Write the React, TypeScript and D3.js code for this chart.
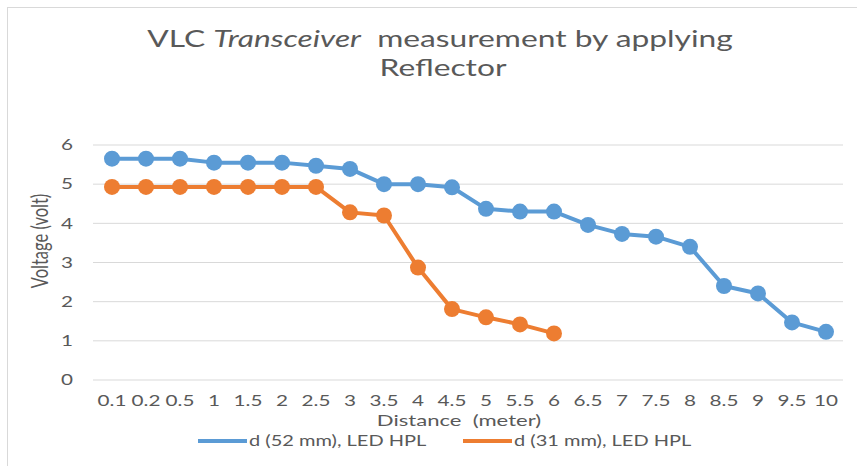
import * as d3 from 'd3'
import type { ReactNode } from 'react'

const distances = ['0.1', '0.2', '0.5', '1', '1.5', '2', '2.5', '3', '3.5', '4', '4.5', '5', '5.5', '6', '6.5', '7', '7.5', '8', '8.5', '9', '9.5', '10']
const blueValues = [5.65, 5.65, 5.65, 5.55, 5.55, 5.55, 5.47, 5.39, 5.0, 5.0, 4.92, 4.37, 4.3, 4.3, 3.96, 3.73, 3.66, 3.4, 2.4, 2.21, 1.47, 1.23]
const orangeValues = [4.93, 4.93, 4.93, 4.93, 4.93, 4.93, 4.93, 4.28, 4.2, 2.87, 1.81, 1.6, 1.42, 1.19]
const yTicks = [0, 1, 2, 3, 4, 5, 6]

const W = 857, H = 466
const FONT = 'Lato, "Open Sans", sans-serif'
const TEXT = '#595959'
const BLUE = '#5B9BD5'
const ORANGE = '#ED7D31'
// the reference picture is stretched sideways, so its text is wider than normal
const SX = 1.38

function T({ x, y, size, anchor = 'start', dy = '0', children }: { x: number; y: number; size: number; anchor?: string; dy?: string; children: ReactNode }) {
  return (
    <text transform={`translate(${x},${y}) scale(${SX},1)`} dy={dy} textAnchor={anchor} fontFamily={FONT} fontSize={size} fill={TEXT}>
      {children}
    </text>
  )
}

export default function App() {
  const x = d3.scaleBand<string>().domain(distances).range([95, 843]).padding(0)
  const y = d3.scaleLinear().domain([0, 6]).range([380, 145])
  const cx = (d: string) => (x(d) ?? 0) + x.bandwidth() / 2

  const line = d3.line<number>().x((_, i) => cx(distances[i])).y(d => y(d))

  const series = [
    { name: 'd (52 mm), LED HPL', values: blueValues, color: BLUE },
    { name: 'd (31 mm), LED HPL', values: orangeValues, color: ORANGE }
  ]

  return (
    <svg width={W} height={H} style={{ position: 'absolute', left: 0, top: 0, background: '#fff' }}>
      <rect x={7.5} y={7.5} width={W + 10} height={H + 10} fill="#fff" stroke="#D9D9D9" />

      {/* title */}
      <T x={440} y={47} size={23} anchor="middle">
        VLC <tspan fontStyle="italic">Transceiver</tspan>{'\u00a0\u00a0'}measurement by applying
      </T>
      <T x={443} y={76} size={23} anchor="middle">Reflector</T>

      {/* grid + y axis */}
      {yTicks.map(t => (
        <g key={t}>
          <line x1={93} x2={843} y1={y(t)} y2={y(t)} stroke="#D9D9D9" strokeWidth={1} />
          <T x={73} y={y(t)} dy="0.35em" size={15} anchor="end">{t}</T>
        </g>
      ))}

      <text transform={`translate(48,241) rotate(-90) scale(1,${SX})`} textAnchor="middle" fontFamily={FONT} fontSize={16.5} fill={TEXT}>
        Voltage (volt)
      </text>

      {/* x axis labels */}
      {distances.map(d => (
        <T key={d} x={cx(d)} y={401} dy="0.35em" size={15} anchor="middle">{d}</T>
      ))}
      <T x={459} y={420} dy="0.35em" size={16} anchor="middle">
        Distance{'\u00a0\u00a0'}(meter)
      </T>

      {/* series */}
      {series.map(s => (
        <g key={s.name}>
          <path d={line(s.values) ?? ''} fill="none" stroke={s.color} strokeWidth={4} strokeLinejoin="round" />
          {s.values.map((v, i) => (
            <circle key={i} cx={cx(distances[i])} cy={y(v)} r={8} fill={s.color} />
          ))}
        </g>
      ))}

      {/* legend */}
      {series.map((s, i) => {
        const lx = i === 0 ? 198 : 463
        return (
          <g key={s.name}>
            <line x1={lx} x2={lx + 49} y1={441} y2={441} stroke={s.color} strokeWidth={4} />
            <T x={lx + 51} y={441} dy="0.35em" size={14.5}>{s.name}</T>
          </g>
        )
      })}
    </svg>
  )
}
